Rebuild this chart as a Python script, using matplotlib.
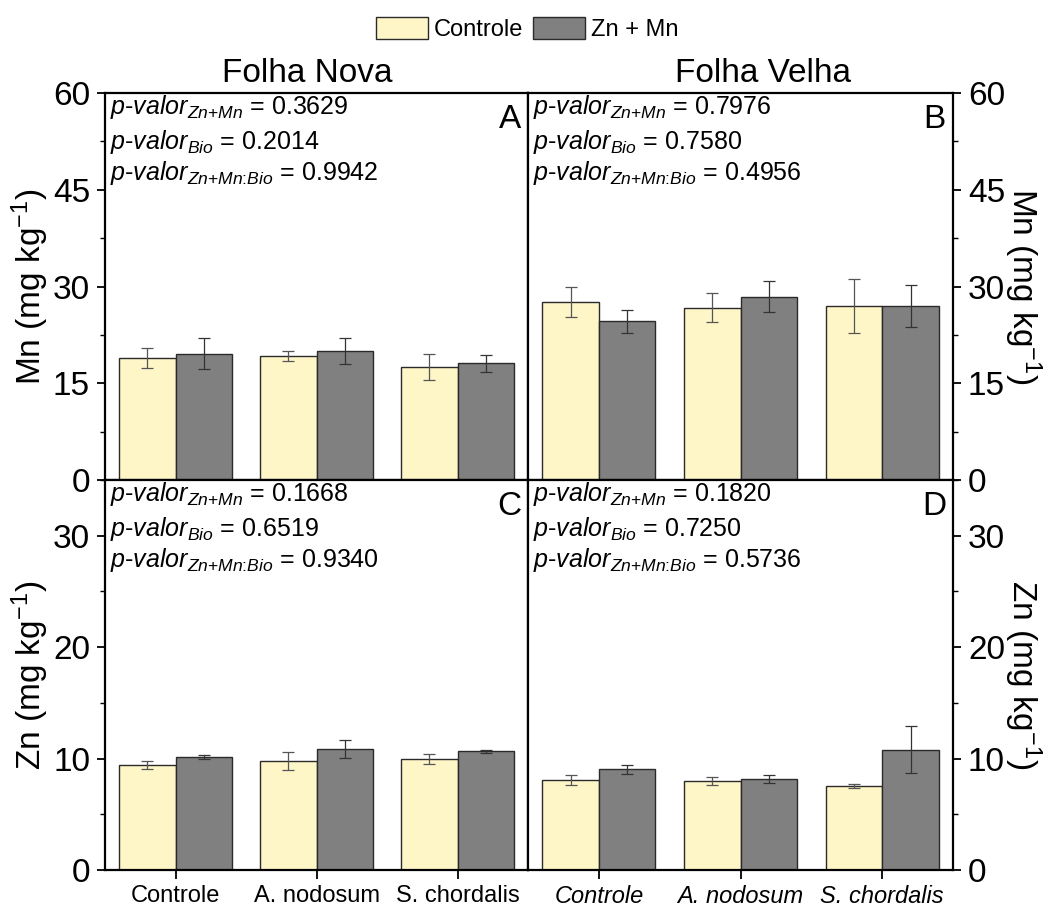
import matplotlib
matplotlib.use("Agg")
import matplotlib.pyplot as plt
import numpy as np
from matplotlib.patches import Patch
from matplotlib.ticker import MultipleLocator

plt.rcParams['font.family'] = ['Liberation Sans', 'DejaVu Sans']
plt.rcParams['mathtext.fontset'] = 'custom'
plt.rcParams['mathtext.rm'] = 'Liberation Sans'
plt.rcParams['mathtext.it'] = 'Liberation Sans:italic'
plt.rcParams['mathtext.bf'] = 'Liberation Sans:bold'

categories = ['Controle', 'A. nodosum', 'S. chordalis']
series = ['Controle', 'Zn + Mn']

# Mn, Folha Nova (A)
mn_nova_ctrl = [18.9, 19.2, 17.5]
mn_nova_ctrl_err = [1.6, 0.8, 2.0]
mn_nova_znmn = [19.6, 20.05, 18.1]
mn_nova_znmn_err = [2.4, 2.0, 1.3]
# Mn, Folha Velha (B)
mn_velha_ctrl = [27.55, 26.7, 27.0]
mn_velha_ctrl_err = [2.3, 2.25, 4.2]
mn_velha_znmn = [24.6, 28.4, 27.0]
mn_velha_znmn_err = [1.8, 2.4, 3.3]
# Zn, Folha Nova (C)
zn_nova_ctrl = [9.43, 9.79, 10.0]
zn_nova_ctrl_err = [0.38, 0.8, 0.45]
zn_nova_znmn = [10.12, 10.87, 10.66]
zn_nova_znmn_err = [0.2, 0.8, 0.15]
# Zn, Folha Velha (D)
zn_velha_ctrl = [8.1, 7.98, 7.56]
zn_velha_ctrl_err = [0.44, 0.35, 0.18]
zn_velha_znmn = [9.03, 8.17, 10.79]
zn_velha_znmn_err = [0.4, 0.35, 2.1]

pvals_A = ['0.3629', '0.2014', '0.9942']
pvals_B = ['0.7976', '0.7580', '0.4956']
pvals_C = ['0.1668', '0.6519', '0.9340']
pvals_D = ['0.1820', '0.7250', '0.5736']
titles = ['Folha Nova', 'Folha Velha']

c_ctrl = '#FFF6C8'
c_zn = '#808080'
edge = '#2a2a2a'

W, H = 1048, 907
fig = plt.figure(figsize=(W / 100, H / 100), dpi=100)

def ax_rect(x0, y0, x1, y1):
    return [x0 / W, 1 - y1 / H, (x1 - x0) / W, (y1 - y0) / H]

axA = fig.add_axes(ax_rect(105, 93, 528, 480))
axB = fig.add_axes(ax_rect(528, 93, 953, 480))
axC = fig.add_axes(ax_rect(105, 480, 528, 870))
axD = fig.add_axes(ax_rect(528, 480, 953, 870))

x = np.arange(1, len(categories) + 1)
bw = 0.4

panels = [
    (axA, mn_nova_ctrl, mn_nova_ctrl_err, mn_nova_znmn, mn_nova_znmn_err, pvals_A, 'A', (0, 60), 15, 7.5, 'left', True),
    (axB, mn_velha_ctrl, mn_velha_ctrl_err, mn_velha_znmn, mn_velha_znmn_err, pvals_B, 'B', (0, 60), 15, 7.5, 'right', True),
    (axC, zn_nova_ctrl, zn_nova_ctrl_err, zn_nova_znmn, zn_nova_znmn_err, pvals_C, 'C', (0, 35), 10, 5, 'left', False),
    (axD, zn_velha_ctrl, zn_velha_ctrl_err, zn_velha_znmn, zn_velha_znmn_err, pvals_D, 'D', (0, 35), 10, 5, 'right', False),
]

sub_names = [r'Zn\text{+}Mn', r'Bio', r'Zn\text{+}Mn\text{:}Bio']
px = 72 / 100  # points per pixel

for (ax, c, ce, z, ze, pv, letter, ylim, major, minor, side, top) in panels:
    ax.bar(x - bw / 2, c, bw, color=c_ctrl, edgecolor=edge, linewidth=1.0, zorder=2)
    ax.bar(x + bw / 2, z, bw, color=c_zn, edgecolor=edge, linewidth=1.0, zorder=2)
    ax.errorbar(x - bw / 2, c, yerr=ce, fmt='none', ecolor='#555555', elinewidth=0.9,
                capsize=4, capthick=0.9, zorder=3)
    ax.errorbar(x + bw / 2, z, yerr=ze, fmt='none', ecolor='#333333', elinewidth=0.9,
                capsize=4, capthick=0.9, zorder=3)
    ax.set_xlim(0.5, 3.5)
    ax.set_ylim(*ylim)
    ax.yaxis.set_major_locator(MultipleLocator(major))
    ax.yaxis.set_minor_locator(MultipleLocator(minor))
    for s in ax.spines.values():
        s.set_linewidth(1.6)
    if side == 'left':
        ax.tick_params(axis='y', which='both', left=True, right=False, labelleft=True,
                       labelright=False, direction='out', labelsize=24)
    else:
        ax.tick_params(axis='y', which='both', left=False, right=True, labelleft=False,
                       labelright=True, direction='out', labelsize=24)
    ax.tick_params(axis='y', which='major', length=8 * px, width=1.3, pad=5)
    ax.tick_params(axis='y', which='minor', length=5 * px, width=1.0)
    if top:
        ax.tick_params(axis='x', which='both', bottom=False, labelbottom=False)
    else:
        ax.set_xticks(x)
        ax.tick_params(axis='x', which='major', length=9 * px, width=1.3, direction='out', pad=4)
        ax.set_xticklabels(categories, fontsize=17,
                           style='italic' if side == 'right' else 'normal')
    # p-value annotations
    hpx = ax.get_window_extent().height
    wpx = ax.get_window_extent().width
    offs = [21, 56, 87]
    for i in range(3):
        txt = r'$p$-$valor_{%s}$ = %s' % (sub_names[i], pv[i])
        ax.text(5 / wpx, 1 - offs[i] / hpx, txt,
                transform=ax.transAxes, fontsize=18, va='baseline', ha='left')
    ax.text(1 - 7 / wpx, 1 - 35 / hpx, letter, transform=ax.transAxes, fontsize=24,
            va='baseline', ha='right')

for ax, lab in [(axA, r'Mn (mg kg$^{-1}$)'), (axC, r'Zn (mg kg$^{-1}$)')]:
    ax.set_ylabel(lab, fontsize=24, va='center')
    ax.yaxis.set_label_coords((30 - 105) / 423, 0.5)
for ax, lab in [(axB, r'Mn (mg kg$^{-1}$)'), (axD, r'Zn (mg kg$^{-1}$)')]:
    ax.yaxis.set_label_position('right')
    ax.set_ylabel(lab, fontsize=24, rotation=270, va='center')
    ax.yaxis.set_label_coords((1023 - 528) / 425, 0.5)

fig.text(307 / W, 1 - 82 / H, titles[0], fontsize=24, ha='center', va='baseline')
fig.text(763 / W, 1 - 82 / H, titles[1], fontsize=24, ha='center', va='baseline')

handles = [Patch(facecolor=c_ctrl, edgecolor=edge, linewidth=1.0, label=series[0]),
           Patch(facecolor=c_zn, edgecolor=edge, linewidth=1.0, label=series[1])]
fig.legend(handles=handles, loc='center', bbox_to_anchor=(527 / W, 1 - 29 / H), ncol=2,
           frameon=False, fontsize=17, handlelength=2.2, handleheight=1.06,
           columnspacing=0.42, handletextpad=0.25, borderpad=0.1)

fig.savefig('out.png', dpi=100)
